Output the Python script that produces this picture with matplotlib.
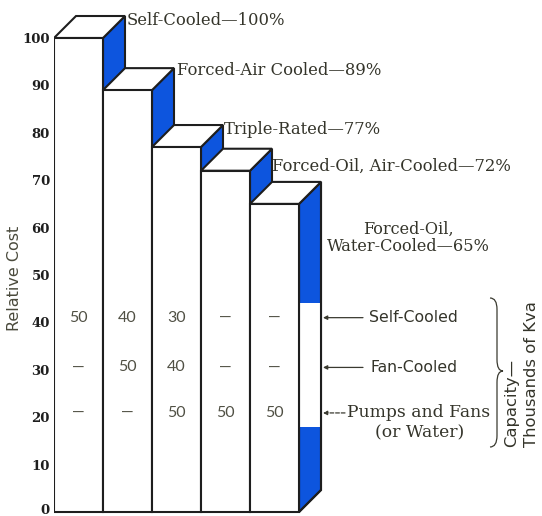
import matplotlib
matplotlib.use("Agg")
import matplotlib.pyplot as plt
import matplotlib.transforms as mtrans
from matplotlib.patches import Polygon, PathPatch
from matplotlib.path import Path

# ---------------- data ----------------
cost = [100, 89, 77, 72, 65]
cost_labels = ["Self-Cooled\u2014100%", "Forced-Air Cooled\u201489%", "Triple-Rated\u201477%",
               "Forced-Oil, Air-Cooled\u201472%", "Forced-Oil,\nWater-Cooled\u201465%"]
row_names = ["Self-Cooled", "Fan-Cooled", "Pumps and Fans", "(or Water)"]
self_cooled_kva = [50, 40, 30, None, None]
fan_cooled_kva = [None, 50, 40, None, None]
pumps_kva = [None, None, 50, 50, 50]
yticks = list(range(0, 101, 10))
capacity_title = ["Capacity\u2014", "Thousands of Kva"]

# ---------------- style / layout ----------------
BLUE = "#0d55de"
EDGE = "#1e1e1e"
TXT = "#34342a"
NUM = "#505044"
DX, DY = 0.449, 4.64          # depth offset (bar widths, value units)
ROW_Y = [41.0, 30.5, 20.9]     # vertical positions of the capacity rows

fig = plt.figure(figsize=(5.42, 5.16), dpi=100)
ax = fig.add_axes([54 / 542, 0, 488 / 542, 1])
ax.set_xlim(0, 488 / 49)
ax.set_ylim(-4 / 4.74, 512 / 4.74)
for s in ax.spines.values():
    s.set_visible(False)
ax.set_xticks([])
ax.set_yticks(yticks)
ax.set_yticklabels([str(t) for t in yticks])
ax.tick_params(axis="y", length=0, pad=3)
for lab in ax.get_yticklabels():
    lab.set_fontfamily("DejaVu Serif")
    lab.set_fontweight("bold")
    lab.set_fontsize(9.5)
    lab.set_color("#1e1e1e")
# lift the "0" label a little so it stays inside the picture
zero_lab = ax.get_yticklabels()[0]
zero_lab.set_transform(zero_lab.get_transform() +
                       mtrans.ScaledTranslation(0, 3 / 100, fig.dpi_scale_trans))

ax.set_ylabel("Relative Cost", family="DejaVu Sans", fontsize=11.5, color="#4a4a3c")
ax.yaxis.label.set_va("center")
ax.yaxis.label.set_ha("center")
ax.yaxis.set_label_coords(-39 / 488, 0.461)

lw = 1.5
for i, v in enumerate(cost):
    z = 2 + i * 3
    side = Polygon([(i + 1, 0), (i + 1 + DX, DY), (i + 1 + DX, v + DY), (i + 1, v)],
                   closed=True, facecolor=BLUE, edgecolor=EDGE, lw=lw, zorder=z, joinstyle="miter")
    ax.add_patch(side)
    if i == len(cost) - 1:
        band = Polygon([(i + 1, 18), (i + 1 + DX, 18), (i + 1 + DX, 44), (i + 1, 44)],
                       closed=True, facecolor="white", edgecolor="none", zorder=z + 0.1)
        ax.add_patch(band)
        outline = Polygon([(i + 1, 0), (i + 1 + DX, DY), (i + 1 + DX, v + DY), (i + 1, v)],
                          closed=True, facecolor="none", edgecolor=EDGE, lw=lw, zorder=z + 0.2)
        ax.add_patch(outline)
    top = Polygon([(i, v), (i + 1, v), (i + 1 + DX, v + DY), (i + DX, v + DY)],
                  closed=True, facecolor="white", edgecolor=EDGE, lw=lw, zorder=z + 1, joinstyle="miter")
    ax.add_patch(top)
    front = Polygon([(i, 0), (i + 1, 0), (i + 1, v), (i, v)],
                    closed=True, facecolor="white", edgecolor=EDGE, lw=lw, zorder=z + 2, joinstyle="miter")
    ax.add_patch(front)

# cost labels
offsets = [(2, -4), (3, -2), (1, -4), (0, -18)]
for i in range(4):
    ax.annotate(cost_labels[i], xy=(i + 1 + DX, cost[i] + DY), xytext=offsets[i],
                textcoords="offset pixels", ha="left", va="center",
                family="DejaVu Serif", fontsize=11.8, color=TXT, zorder=30)
ax.text((408 - 54) / 49, (512 - 238) / 4.74, cost_labels[4], ha="center", va="center",
        family="DejaVu Serif", fontsize=11.6, color=TXT, linespacing=1.0, zorder=30)

# capacity numbers
for r, row in enumerate([self_cooled_kva, fan_cooled_kva, pumps_kva]):
    for i, val in enumerate(row):
        s = "\u2014" if val is None else str(val)
        ax.text(i + 0.5, ROW_Y[r], s, ha="center", va="center", family="Lato",
                fontsize=11.5, color=NUM, zorder=30)

# row labels with arrows
x_head = (323 - 54) / 49
arrow_tail = [(363 - 54) / 49, (363 - 54) / 49, (345 - 54) / 49]
for r in range(3):
    ax.annotate("", xy=(x_head, ROW_Y[r]), xytext=(arrow_tail[r], ROW_Y[r]),
                arrowprops=dict(arrowstyle="-|>", lw=0.9, color="#3a3a30",
                                mutation_scale=6, shrinkA=0, shrinkB=0,
                                linestyle="-" if r < 2 else (0, (3, 1.5))),
                zorder=30)
ax.text((369 - 54) / 49, ROW_Y[0], row_names[0], ha="left", va="center",
        family="DejaVu Sans", fontsize=11.3, color=TXT, zorder=30)
ax.text((370 - 54) / 49, ROW_Y[1], row_names[1], ha="left", va="center",
        family="DejaVu Sans", fontsize=11.3, color=TXT, zorder=30)
ax.text((347 - 54) / 49, ROW_Y[2], row_names[2], ha="left", va="center",
        family="DejaVu Serif", fontsize=12.3, color=TXT, zorder=30)
ax.text((420 - 54) / 49, (512 - 433) / 4.74, row_names[3], ha="center", va="center",
        family="DejaVu Serif", fontsize=12.3, color=TXT, zorder=30)

# brace
x0, xm, x1 = (490 - 54) / 49, (497 - 54) / 49, (503 - 54) / 49
yt, yc, yb = (512 - 298) / 4.74, (512 - 371) / 4.74, (512 - 447) / 4.74
r = 2.4
verts = [(x0, yt), (xm, yt), (xm, yt - r), (xm, yc + r), (xm, yc), (x1, yc),
         (xm, yc), (xm, yc - r), (xm, yb + r), (xm, yb), (x0, yb)]
codes = [Path.MOVETO, Path.CURVE3, Path.CURVE3, Path.LINETO, Path.CURVE3, Path.CURVE3,
         Path.CURVE3, Path.CURVE3, Path.LINETO, Path.CURVE3, Path.CURVE3]
ax.add_patch(PathPatch(Path(verts, codes), facecolor="none", edgecolor="#3a3a30", lw=0.9, zorder=30))

ax.text((512 - 54) / 49, yb, capacity_title[0], rotation=90, ha="center", va="bottom",
        family="DejaVu Sans", fontsize=11.8, color=TXT, zorder=30)
ax.text((532 - 54) / 49, yb, capacity_title[1], rotation=90, ha="center", va="bottom",
        family="DejaVu Sans", fontsize=11.8, color=TXT, zorder=30)

fig.savefig("out.png", dpi=100)
